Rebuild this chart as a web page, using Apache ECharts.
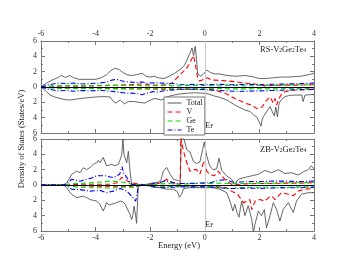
<!DOCTYPE html>
<html><head><meta charset="utf-8">
<script src="https://cdn.jsdelivr.net/npm/echarts@6/dist/echarts.min.js"></script>
<style>html,body{margin:0;padding:0;background:#fff}#c{width:354px;height:273px}</style>
</head><body><div id="c"></div>
<script>
// ---- tick labels / ranges ----
const energyMin = -6, energyMax = 4, energyStep = 2;
const dosMin = -6, dosMax = 6, dosStep = 2;
const seriesNames = ['Total', 'V', 'Ge', 'Te'];

// ---- RS-V2Ge2Te4 (top panel): [energy eV, DOS states/eV] ----
const rsTotalUp = [[-6,0],[-5.8,0.5],[-5.6,0.9],[-5.4,1.2],[-5.25,1.5],[-5.1,1.25],[-4.95,1.5],[-4.8,1.2],[-4.6,1.0],[-4.3,1.0],[-4.0,1.0],[-3.8,1.2],[-3.6,1.6],[-3.45,2.1],[-3.3,2.45],[-3.15,2.3],[-3.0,1.9],[-2.85,1.6],[-2.7,1.5],[-2.5,1.6],[-2.3,1.8],[-2.15,1.4],[-2.0,1.3],[-1.85,1.4],[-1.7,1.2],[-1.5,1.1],[-1.3,1.4],[-1.1,1.8],[-0.9,2.3],[-0.75,2.8],[-0.62,3.8],[-0.52,4.6],[-0.47,5.1],[-0.41,4.1],[-0.35,5.3],[-0.3,3.5],[-0.26,1.7],[-0.15,1.4],[-0.05,1.7],[0.08,2.2],[0.2,1.9],[0.37,1.7],[0.55,1.7],[0.74,1.55],[1.1,1.4],[1.5,1.5],[1.8,1.3],[2.0,1.1],[2.2,1.1],[2.5,1.2],[2.8,1.3],[3.1,1.3],[3.5,1.4],[3.8,1.6],[4.0,1.8]];
const rsTotalDown = [[-6,0],[-5.8,-0.6],[-5.67,-1.05],[-5.5,-1.3],[-5.3,-1.5],[-5.1,-1.65],[-4.94,-1.7],[-4.75,-1.6],[-4.57,-1.5],[-4.3,-1.4],[-4.0,-1.3],[-3.7,-1.25],[-3.47,-1.3],[-3.35,-1.9],[-3.25,-2.1],[-3.1,-1.7],[-2.95,-2.2],[-2.8,-1.9],[-2.6,-1.9],[-2.4,-2.0],[-2.2,-2.1],[-2.05,-1.8],[-1.85,-1.5],[-1.7,-1.6],[-1.58,-1.7],[-1.4,-1.3],[-1.2,-1.1],[-0.9,-0.9],[-0.6,-0.8],[-0.36,-0.75],[-0.1,-0.8],[0.12,-0.9],[0.37,-1.2],[0.55,-1.35],[0.74,-1.6],[0.9,-1.9],[1.1,-2.35],[1.3,-2.7],[1.47,-3.0],[1.66,-3.2],[1.8,-3.7],[1.9,-3.9],[1.96,-4.3],[2.03,-4.5],[2.06,-5.1],[2.1,-4.3],[2.14,-3.9],[2.27,-3.2],[2.39,-2.55],[2.47,-3.2],[2.55,-3.8],[2.6,-2.6],[2.66,-3.9],[2.72,-2.1],[2.82,-1.6],[2.94,-1.25],[3.1,-1.1],[3.3,-1.05],[3.55,-1.05],[3.6,-1.9],[3.67,-1.05],[3.85,-1.0],[4.0,-0.95]];
const rsVUp = [[-6,0],[-5.5,0.1],[-5,0.15],[-4.5,0.1],[-4,0.15],[-3.5,0.2],[-3,0.25],[-2.5,0.35],[-2.2,0.4],[-2.0,0.25],[-1.6,0.25],[-1.4,0.3],[-1.21,0.5],[-1.1,0.9],[-0.97,1.35],[-0.85,1.8],[-0.73,2.2],[-0.62,2.7],[-0.54,3.2],[-0.46,3.8],[-0.42,4.1],[-0.38,3.6],[-0.33,3.8],[-0.3,2.0],[-0.26,1.2],[-0.2,0.8],[-0.1,0.9],[0.0,1.1],[0.1,1.2],[0.25,0.9],[0.4,0.9],[0.56,0.85],[0.8,0.8],[1.1,0.7],[1.4,0.55],[1.7,0.45],[2.0,0.3],[2.2,0.15],[2.5,0.2],[3.0,0.25],[3.5,0.25],[4.0,0.3]];
const rsVDown = [[-6,0],[-5.5,-0.1],[-5,-0.15],[-4.5,-0.1],[-4,-0.15],[-3.5,-0.2],[-3,-0.2],[-2.5,-0.25],[-2,-0.25],[-1.5,-0.3],[-1,-0.3],[-0.5,-0.3],[0,-0.3],[0.37,-0.4],[0.55,-0.6],[0.74,-0.8],[0.9,-1.1],[1.1,-1.5],[1.3,-1.8],[1.47,-2.1],[1.7,-2.35],[1.9,-2.8],[2.1,-2.6],[2.27,-1.7],[2.39,-1.3],[2.51,-2.1],[2.57,-1.5],[2.63,-2.35],[2.72,-1.5],[2.82,-0.9],[2.94,-0.6],[3.3,-0.4],[3.7,-0.35],[4.0,-0.3]];
const rsGeUp = [[-6,0],[-5.5,0.15],[-5,0.2],[-4.5,0.15],[-4,0.2],[-3.5,0.25],[-3,0.2],[-2.5,0.2],[-2,0.15],[-1.5,0.2],[-1,0.15],[-0.5,0.2],[0,0.2],[0.5,0.15],[1,0.2],[1.5,0.15],[2,0.2],[2.5,0.2],[3,0.25],[3.5,0.3],[4,0.3]];
const rsGeDown = [[-6,0],[-5.5,-0.15],[-5,-0.2],[-4.5,-0.2],[-4,-0.2],[-3.5,-0.25],[-3,-0.25],[-2.5,-0.2],[-2,-0.2],[-1.5,-0.2],[-1,-0.15],[-0.5,-0.2],[0,-0.2],[0.5,-0.2],[1,-0.25],[1.5,-0.25],[2,-0.2],[2.5,-0.25],[3,-0.2],[3.5,-0.2],[4,-0.2]];
const rsTeUp = [[-6,0],[-5.7,0.3],[-5.4,0.5],[-5.1,0.45],[-4.8,0.5],[-4.5,0.4],[-4.2,0.45],[-3.9,0.5],[-3.6,0.65],[-3.4,0.9],[-3.25,1.0],[-3.1,0.85],[-2.9,0.7],[-2.6,0.6],[-2.3,0.65],[-2.1,0.5],[-1.8,0.55],[-1.5,0.5],[-1.2,0.45],[-0.9,0.35],[-0.6,0.3],[-0.3,0.35],[0,0.3],[0.5,0.35],[1,0.3],[1.5,0.35],[2,0.3],[2.5,0.35],[3,0.4],[3.5,0.45],[4,0.5]];
const rsTeDown = [[-6,0],[-5.7,-0.3],[-5.4,-0.5],[-5.1,-0.45],[-4.8,-0.55],[-4.5,-0.45],[-4.2,-0.5],[-3.9,-0.45],[-3.6,-0.5],[-3.3,-0.6],[-3.0,-0.75],[-2.7,-0.8],[-2.5,-0.85],[-2.3,-1.0],[-2.1,-0.8],[-1.9,-0.6],[-1.7,-0.65],[-1.5,-0.5],[-1.2,-0.4],[-0.9,-0.3],[-0.5,-0.3],[0,-0.35],[0.5,-0.45],[1,-0.55],[1.5,-0.55],[2,-0.5],[2.5,-0.45],[3,-0.4],[3.5,-0.35],[4,-0.3]];

// ---- ZB-V2Ge2Te4 (bottom panel) ----
const zbTotalUp = [[-6,0],[-5.3,0],[-5.15,0.05],[-5.06,0.3],[-4.95,0.9],[-4.88,1.4],[-4.78,1.6],[-4.69,1.8],[-4.57,1.6],[-4.45,2.25],[-4.33,2.0],[-4.2,2.3],[-4.08,2.7],[-3.96,2.9],[-3.9,3.2],[-3.84,2.9],[-3.72,3.6],[-3.6,2.5],[-3.5,2.6],[-3.41,2.7],[-3.29,2.5],[-3.17,2.7],[-3.08,3.5],[-3.04,4.0],[-3.0,6.0],[-2.96,4.0],[-2.86,2.9],[-2.8,4.4],[-2.74,1.8],[-2.68,0.1],[-2.5,0.05],[-2.2,0.05],[-2.0,0.2],[-1.85,0.3],[-1.7,0.4],[-1.6,0.7],[-1.52,1.8],[-1.4,2.3],[-1.27,1.4],[-1.15,0.75],[-1.0,0.6],[-0.9,0.5],[-0.86,6.2],[-0.8,6.4],[-0.76,6.0],[-0.66,4.6],[-0.54,4.3],[-0.42,3.1],[-0.3,2.8],[-0.18,3.0],[-0.06,4.9],[-0.02,5.6],[0.07,3.8],[0.18,2.5],[0.3,2.0],[0.43,2.1],[0.52,3.5],[0.62,1.9],[0.8,1.2],[0.98,0.74],[1.1,0.1],[1.23,0.74],[1.47,1.0],[1.72,1.2],[1.96,1.4],[2.2,1.9],[2.45,1.6],[2.69,2.0],[2.94,1.5],[3.18,1.6],[3.42,1.3],[3.6,1.7],[3.79,2.0],[3.9,2.5],[4.0,2.1]];
const zbTotalDown = [[-6,0],[-5.3,0],[-5.15,-0.05],[-5.06,-0.35],[-4.95,-0.9],[-4.88,-1.2],[-4.69,-1.65],[-4.57,-1.55],[-4.45,-1.45],[-4.3,-1.7],[-4.2,-1.9],[-4.08,-2.0],[-3.96,-2.1],[-3.85,-2.5],[-3.78,-2.75],[-3.72,-3.4],[-3.66,-2.9],[-3.6,-2.3],[-3.5,-2.6],[-3.41,-2.5],[-3.3,-2.4],[-3.23,-2.6],[-3.1,-2.1],[-3.0,-2.2],[-2.92,-2.5],[-2.8,-3.4],[-2.74,-3.8],[-2.68,-4.5],[-2.64,-4.0],[-2.59,-2.75],[-2.54,-3.8],[-2.5,-5.0],[-2.46,-2.0],[-2.44,-0.2],[-2.3,-0.05],[-2.05,-0.1],[-1.9,-0.3],[-1.64,-0.35],[-1.4,-0.55],[-1.15,-0.55],[-1.0,-0.9],[-0.93,-1.6],[-0.85,-1.2],[-0.78,-0.5],[-0.6,-0.35],[-0.3,-0.35],[0,-0.35],[0.3,-0.35],[0.55,-0.55],[0.8,-1.0],[0.92,-2.1],[1.03,-3.4],[1.1,-2.5],[1.18,-3.6],[1.25,-4.2],[1.35,-2.1],[1.47,-4.0],[1.59,-2.7],[1.72,-4.5],[1.78,-6.2],[1.84,-5.1],[1.96,-3.4],[2.08,-4.0],[2.18,-3.2],[2.26,-5.6],[2.39,-4.0],[2.51,-2.3],[2.63,-3.2],[2.75,-4.7],[2.87,-3.2],[3.06,-2.3],[3.24,-3.6],[3.36,-2.1],[3.54,-1.2],[3.79,-1.0],[4.0,-1.0]];
const zbVUp = [[-6,0],[-5.2,0],[-5.0,0.05],[-4.5,0.1],[-4.0,0.1],[-3.5,0.1],[-3.2,0.3],[-3.04,1.0],[-2.95,0.8],[-2.87,0.6],[-2.8,0.75],[-2.72,0.3],[-2.65,0.05],[-2.2,0],[-2.0,0.1],[-1.7,0.2],[-1.5,0.5],[-1.4,0.75],[-1.3,0.5],[-1.1,0.15],[-0.9,0.1],[-0.88,6.2],[-0.78,4.4],[-0.66,2.9],[-0.54,1.8],[-0.42,2.0],[-0.3,2.0],[-0.18,1.4],[-0.06,2.8],[0.0,3.2],[0.07,1.8],[0.18,1.4],[0.34,1.2],[0.5,1.8],[0.62,1.2],[0.8,0.5],[0.98,0.1],[1.1,0.05],[1.5,0.15],[2.0,0.2],[2.5,0.2],[3.0,0.25],[3.5,0.25],[4.0,0.3]];
const zbVDown = [[-6,0],[-5.2,0],[-5.0,-0.05],[-4.5,-0.1],[-4.0,-0.15],[-3.5,-0.15],[-3.0,-0.15],[-2.7,-0.2],[-2.55,-0.4],[-2.5,-0.55],[-2.45,-0.1],[-2.2,0],[-1.9,-0.1],[-1.5,-0.15],[-1.0,-0.2],[-0.5,-0.1],[0,-0.1],[0.4,-0.2],[0.8,-0.35],[0.98,-0.8],[1.1,-1.0],[1.2,-1.2],[1.29,-1.65],[1.42,-2.3],[1.5,-2.2],[1.65,-1.9],[1.72,-3.2],[1.84,-2.1],[2.02,-1.9],[2.2,-2.1],[2.33,-1.65],[2.45,-1.45],[2.57,-1.9],[2.81,-1.0],[3.06,-1.2],[3.24,-1.4],[3.42,-0.8],[3.66,-0.55],[4.0,-0.45]];
const zbGeUp = [[-6,0],[-5.2,0],[-5.0,0.1],[-4.7,0.2],[-4.4,0.25],[-4.1,0.3],[-3.8,0.4],[-3.5,0.5],[-3.2,0.45],[-3.0,0.35],[-2.8,0.2],[-2.65,0.02],[-2.2,0],[-2.0,0.05],[-1.6,0.15],[-1.3,0.2],[-1.0,0.1],[-0.6,0.15],[-0.2,0.2],[0.2,0.2],[0.6,0.25],[1.0,0.2],[1.5,0.2],[2.0,0.25],[2.5,0.25],[3.0,0.3],[3.5,0.3],[4.0,0.35]];
const zbGeDown = [[-6,0],[-5.2,0],[-5.0,-0.1],[-4.7,-0.25],[-4.4,-0.3],[-4.1,-0.35],[-3.8,-0.35],[-3.5,-0.4],[-3.2,-0.35],[-3.0,-0.3],[-2.7,-0.3],[-2.5,-0.3],[-2.44,-0.02],[-2.2,0],[-2.0,-0.05],[-1.6,-0.15],[-1.3,-0.2],[-1.0,-0.15],[-0.6,-0.15],[-0.2,-0.2],[0.2,-0.2],[0.6,-0.35],[0.9,-0.5],[1.2,-0.35],[1.6,-0.3],[2.0,-0.3],[2.5,-0.3],[3.0,-0.3],[3.5,-0.25],[4.0,-0.25]];
const zbTeUp = [[-6,0],[-5.2,0],[-5.06,0.15],[-4.88,0.74],[-4.7,0.6],[-4.57,0.5],[-4.33,0.74],[-4.15,0.9],[-3.96,1.2],[-3.66,1.2],[-3.35,0.96],[-3.12,1.4],[-3.03,2.4],[-2.98,1.6],[-2.86,1.0],[-2.74,0.3],[-2.65,0.05],[-2.2,0],[-2.0,0.1],[-1.7,0.3],[-1.5,0.5],[-1.3,0.45],[-1.0,0.2],[-0.6,0.2],[-0.2,0.25],[0.2,0.3],[0.5,0.6],[0.8,0.7],[1.0,0.4],[1.3,0.4],[1.7,0.45],[2.1,0.45],[2.5,0.5],[3.0,0.5],[3.5,0.45],[4.0,0.5]];
const zbTeDown = [[-6,0],[-5.2,0],[-5.06,-0.15],[-4.88,-0.55],[-4.57,-0.6],[-4.2,-0.8],[-3.84,-0.7],[-3.6,-1.0],[-3.35,-0.8],[-3.1,-0.45],[-2.86,-0.8],[-2.68,-1.45],[-2.53,-2.1],[-2.47,-1.0],[-2.44,-0.1],[-2.2,0],[-2.0,-0.1],[-1.7,-0.3],[-1.5,-0.35],[-1.2,-0.3],[-0.8,-0.25],[-0.4,-0.25],[0,-0.25],[0.4,-0.3],[0.8,-0.45],[1.2,-0.45],[1.6,-0.4],[2.0,-0.45],[2.5,-0.4],[3.0,-0.35],[3.5,-0.35],[4.0,-0.3]];

// ---- styles ----
const FONT = 'Liberation Serif';
const AX = '#777';
const styleOf = {
  Total: {color: '#555555', width: 0.9, type: 'solid'},
  V:     {color: '#ff0000', width: 1.1, type: [5, 3]},
  Ge:    {color: '#00dd00', width: 1.1, type: [5, 3]},
  Te:    {color: '#0000ff', width: 1.1, type: [5, 2, 1, 2]}
};

function xAx(gridIndex, position, labels) {
  return {
    type: 'value', gridIndex, position, min: energyMin, max: energyMax, interval: energyStep,
    axisLine: {show: true, onZero: false, lineStyle: {color: AX, width: 1}},
    axisTick: {show: true, inside: true, length: 4, lineStyle: {color: AX}},
    minorTick: {show: true, splitNumber: 2, length: 2, lineStyle: {color: AX}},
    splitLine: {show: false},
    axisLabel: {show: labels, fontFamily: FONT, fontSize: 8, color: '#333', margin: 3}
  };
}
function yAx(gridIndex, position, labels) {
  return {
    type: 'value', gridIndex, position, min: dosMin, max: dosMax, interval: dosStep,
    axisLine: {show: true, onZero: false, lineStyle: {color: AX, width: 1}},
    axisTick: {show: true, inside: true, length: 4, lineStyle: {color: AX}},
    minorTick: {show: true, splitNumber: 2, length: 2, lineStyle: {color: AX}},
    splitLine: {show: false},
    axisLabel: {show: labels, fontFamily: FONT, fontSize: 8, color: '#333', margin: 4,
      formatter: v => String(Math.abs(v))}
  };
}

const panels = [
  {x: 0, y: 0, curves: {Total: [rsTotalUp, rsTotalDown], V: [rsVUp, rsVDown], Ge: [rsGeUp, rsGeDown], Te: [rsTeUp, rsTeDown]}},
  {x: 2, y: 2, curves: {Total: [zbTotalUp, zbTotalDown], V: [zbVUp, zbVDown], Ge: [zbGeUp, zbGeDown], Te: [zbTeUp, zbTeDown]}}
];

const series = [];
panels.forEach(p => {
  seriesNames.forEach(name => {
    p.curves[name].forEach(arr => {
      series.push({
        type: 'line', name, xAxisIndex: p.x, yAxisIndex: p.y, data: arr,
        symbol: 'none', symbolSize: 0, showSymbol: false, animation: false, clip: true,
        emphasis: {disabled: true},
        lineStyle: styleOf[name], itemStyle: {color: styleOf[name].color}
      });
    });
  });
  series.push({
    type: 'line', xAxisIndex: p.x, yAxisIndex: p.y, data: [], silent: true,
    symbol: 'none',
    markLine: {
      silent: true, symbol: 'none', animation: false, label: {show: false},
      data: [
        {xAxis: 0, lineStyle: {color: '#c8c8c8', width: 1, type: 'solid'}},
        {yAxis: 0, lineStyle: {color: '#000', width: 1.1, type: 'solid'}}
      ]
    }
  });
});

const richStyle = {
  a: {fontFamily: FONT, fontSize: 8.5, fill: '#222', lineHeight: 11, verticalAlign: 'bottom'},
  s: {fontFamily: FONT, fontSize: 5.5, fill: '#222', lineHeight: 5, verticalAlign: 'bottom'}
};
function subText(txt) {
  return {type: 'text', style: {text: txt, rich: richStyle}};
}

const chart = echarts.init(document.getElementById('c'), null, {renderer: 'canvas'});
chart.setOption({
  backgroundColor: '#fff',
  animation: false,
  grid: [
    {left: 41, top: 41, width: 273, height: 92},
    {left: 41, top: 139, width: 273, height: 92}
  ],
  xAxis: [xAx(0, 'top', true), xAx(0, 'bottom', false), xAx(1, 'bottom', true), xAx(1, 'top', false)],
  yAxis: [yAx(0, 'left', true), yAx(0, 'right', false), yAx(1, 'left', true), yAx(1, 'right', false)],
  legend: {
    data: seriesNames, orient: 'vertical', left: 164, top: 97,
    itemWidth: 14, itemHeight: 7, itemGap: 1,
    padding: [2, 2, 1, 3],
    backgroundColor: '#fff', borderColor: AX, borderWidth: 1, borderRadius: 0,
    itemStyle: {color: 'rgba(0,0,0,0)', borderColor: 'rgba(0,0,0,0)', borderWidth: 0, opacity: 0},
    lineStyle: {width: 1},
    textStyle: {fontFamily: FONT, fontSize: 8, color: '#222', lineHeight: 8},
    selectedMode: false
  },
  graphic: [
    Object.assign(subText('{a|RS-V}{s|2}{a|Ge}{s|2}{a|Te}{s|4}'), {left: 260, top: 45}),
    Object.assign(subText('{a|ZB-V}{s|2}{a|Ge}{s|2}{a|Te}{s|4}'), {left: 260, top: 145}),
    Object.assign(subText('{a|E}{s|F}'), {left: 205, top: 121}),
    Object.assign(subText('{a|E}{s|F}'), {left: 205, top: 220}),
    {type: 'text', left: 158, top: 241, style: {text: 'Energy (eV)', fontFamily: FONT, fontSize: 8.5, fill: '#222'}},
    {type: 'text', x: 22, y: 139, rotation: Math.PI / 2,
      style: {text: 'Density of States (States/eV)', fontFamily: FONT, fontSize: 8.5, fill: '#222', align: 'center', verticalAlign: 'middle'}}
  ],
  series
});
</script></body></html>
